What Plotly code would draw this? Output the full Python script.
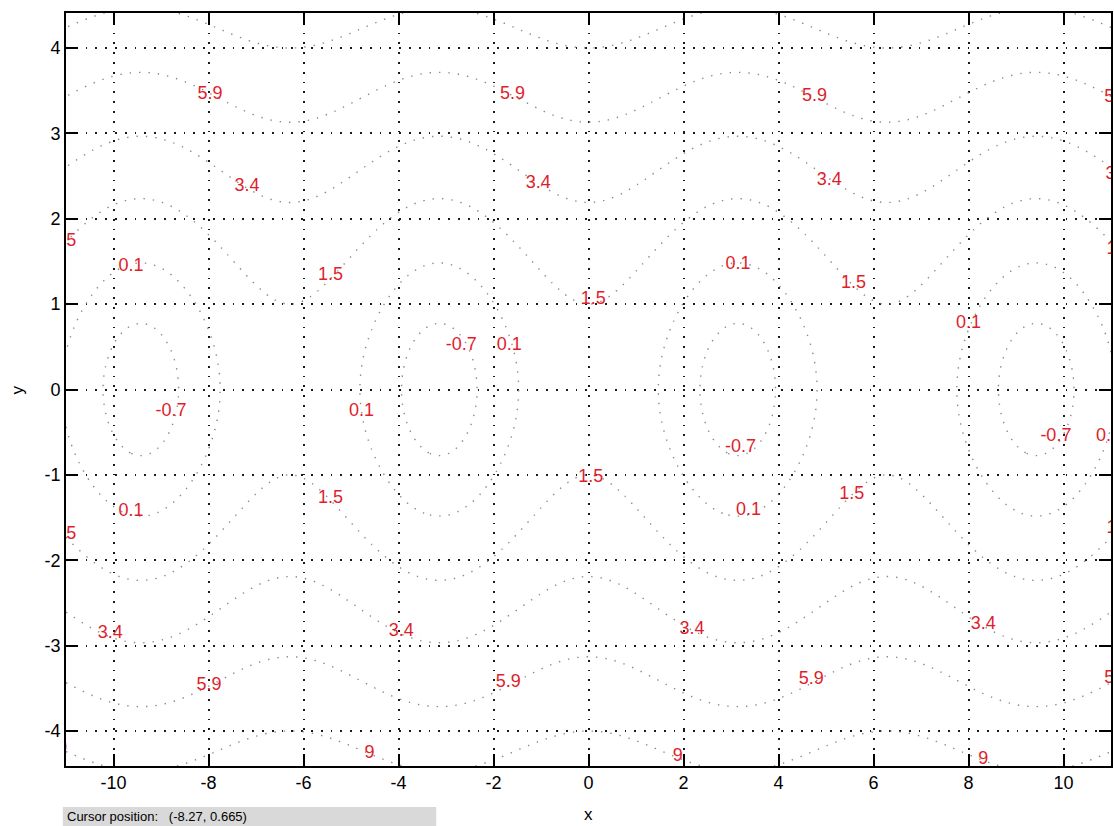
import numpy as np
import plotly.graph_objects as go

# Pendulum energy surface H(q, p) = p^2/2 + cos(q), sampled on a regular grid
q = np.linspace(-11.0, 11.0, 661)
p = np.linspace(-4.41, 4.41, 331)
Q, P = np.meshgrid(q, p)
H = P ** 2 / 2.0 + np.cos(Q)

# Contour levels shown on the plot
levels = [-0.7, 0.1, 1.5, 3.4, 5.9, 9.0]

# In-line contour labels (placed along the curves)
label_text = [
    "5.9", "5.9", "5.9", "5.9",
    "3.4", "3.4", "3.4", "3.4",
    "1.5", "0.1", "1.5", "1.5", "0.1", "1.5", "1.5",
    "0.1", "-0.7", "0.1",
    "-0.7", "0.1", "-0.7", "-0.7", "0.1",
    "1.5", "0.1", "1.5", "0.1", "1.5", "1.5", "1.5",
    "3.4", "3.4", "3.4", "3.4",
    "5.9", "5.9", "5.9", "5.9",
    "9", "9", "9", "9", "9", "9", "9",
]
label_x = [
    -7.97, -1.60, 4.76, 11.12,
    -7.19, -1.06, 5.07, 11.15,
    -11.05, -9.63, -5.43, 0.10, 3.15, 5.58, 11.17,
    8.00, -2.68, -1.67,
    -8.79, -4.78, 3.20, 9.84, 10.95,
    0.05, -9.63, -5.43, 3.37, 5.54, 11.17, -11.05,
    -10.07, -3.94, 2.18, 8.31,
    -7.99, -1.69, 4.69, 11.12,
    -4.61, 1.88, 8.31, -9.84, -3.35, 9.57, -11.08,
]
label_y = [
    3.45, 3.45, 3.43, 3.42,
    2.38, 2.41, 2.45, 2.52,
    1.73, 1.44, 1.34, 1.06, 1.47, 1.24, 1.64,
    0.77, 0.52, 0.52,
    -0.26, -0.26, -0.68, -0.55, -0.55,
    -1.03, -1.43, -1.28, -1.42, -1.23, -1.63, -1.70,
    -2.86, -2.83, -2.81, -2.75,
    -3.47, -3.43, -3.40, -3.39,
    -4.26, -4.30, -4.33, 4.47, 4.47, 4.47, -4.21,
]

x_ticks = [-10, -8, -6, -4, -2, 0, 2, 4, 6, 8, 10]
y_ticks = [-4, -3, -2, -1, 0, 1, 2, 3, 4]

FONT = "Liberation Sans, Arial, sans-serif"

fig = go.Figure()

for lev in levels:
    fig.add_trace(go.Contour(
        x=q, y=p, z=H,
        autocontour=False,
        contours=dict(start=lev, end=lev, size=1.0, coloring="lines",
                      showlabels=False),
        line=dict(color="#8a8a8a", width=1.4, dash="1.4px,8px", smoothing=1),
        colorscale=[[0, "#8a8a8a"], [1, "#8a8a8a"]],
        showscale=False,
        hoverinfo="skip",
    ))

fig.add_trace(go.Scatter(
    x=label_x, y=label_y, text=label_text, mode="text",
    textposition="middle center",
    textfont=dict(family=FONT, size=18, color="#e01e2c"),
    cliponaxis=True, hoverinfo="skip", showlegend=False,
))

axis_common = dict(
    showline=True, linecolor="black", linewidth=1.6, mirror="allticks",
    ticks="inside", ticklen=12, tickwidth=1.6, tickcolor="black",
    showgrid=True, gridcolor="#1a1a1a", gridwidth=1.6, griddash="1.8px,8px",
    zeroline=False,
    tickfont=dict(family=FONT, size=18, color="black"),
)

fig.update_xaxes(range=[-11.0, 11.0], tickvals=x_ticks,
                 ticktext=[str(v) for v in x_ticks], **axis_common)
fig.update_yaxes(range=[-4.41, 4.41], tickvals=y_ticks,
                 ticktext=[str(v) for v in y_ticks], **axis_common)

fig.update_layout(
    width=1114, height=826,
    margin=dict(l=66, r=1, t=13, b=60),
    paper_bgcolor="white", plot_bgcolor="white",
    showlegend=False,
    shapes=[dict(type="rect", xref="paper", yref="paper",
                 x0=-0.003, x1=0.3543, y0=-0.0797, y1=-0.0544,
                 fillcolor="#d9d9d9", line=dict(width=0), layer="below")],
    annotations=[
        dict(text="x", xref="paper", yref="paper", x=0.5, y=-0.065,
             xanchor="center", yanchor="middle", showarrow=False,
             font=dict(family=FONT, size=17, color="black")),
        dict(text="y", xref="paper", yref="paper", x=-0.046, y=0.5,
             xanchor="center", yanchor="middle", showarrow=False, textangle=-90,
             font=dict(family=FONT, size=17, color="black")),
        dict(text="Cursor position:   (-8.27, 0.665)", xref="paper",
             yref="paper", x=-0.001, y=-0.0675, xanchor="left",
             yanchor="middle", showarrow=False,
             font=dict(family=FONT, size=13, color="black")),
    ],
)

fig.write_html("out.html")
